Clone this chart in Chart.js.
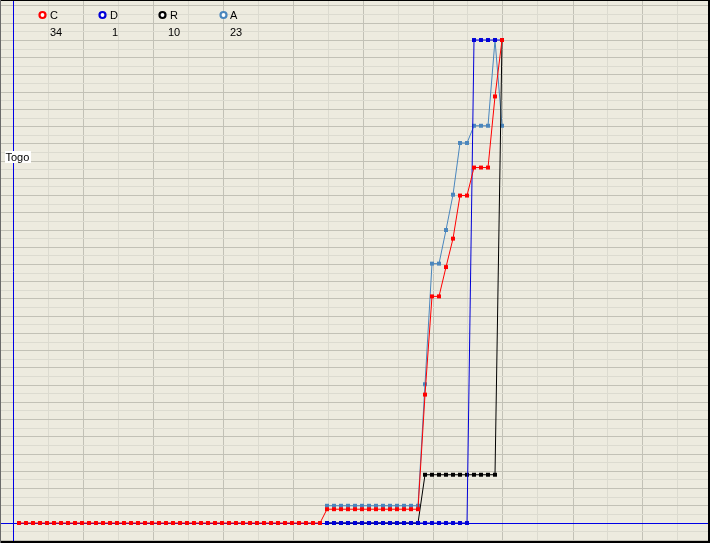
<!DOCTYPE html>
<html>
<head>
<meta charset="utf-8">
<script src="https://cdn.jsdelivr.net/npm/chart.js@4/dist/chart.umd.min.js"></script>
<style>
html, body { margin: 0; padding: 0; background: #fff; }
#wrap { position: relative; width: 710px; height: 543px; }
canvas { background: #edebdf; }
</style>
</head>
<body>
<div id="wrap"><canvas id="chart" width="710" height="543"></canvas></div>
<script>
// step index along the x axis
const steps = Array.from({ length: 70 }, (_, i) => i);

const seriesNames = ["C", "D", "R", "A"];
const seriesColors = ["#ff0000", "#0000d8", "#000000", "#4a86bd"];
const legendValues = [34, 1, 10, 23];

const valuesC = [
    0, 0, 0, 0, 0, 0, 0, 0, 0, 0, 0, 0, 0, 0, 0, 0, 0, 0, 0, 0, 0, 0,
    0, 0, 0, 0, 0, 0, 0, 0, 0, 0, 0, 0, 0, 0, 0, 0, 0, 0, 0, 0, 0, 0,
    1.6, 1.6, 1.6, 1.6, 1.6, 1.6, 1.6, 1.6, 1.6, 1.6, 1.6, 1.6, 1.6, 1.6,
    14.9, 26.3, 26.3, 29.7, 33.0, 38.0, 38.0, 41.25, 41.25, 41.25, 49.5, 56.05
];
const valuesD = [
    null, null, null, null, null, null, null, null, null, null, null,
    null, null, null, null, null, null, null, null, null, null, null,
    null, null, null, null, null, null, null, null, null, null, null,
    null, null, null, null, null, null, null, null, null, null, null,
    0, 0, 0, 0, 0, 0, 0, 0, 0, 0, 0, 0, 0, 0, 0, 0, 0, 0, 0, 0, 0,
    56.05, 56.05, 56.05, 56.05, 56.05
];
const valuesR = [
    null, null, null, null, null, null, null, null, null, null, null,
    null, null, null, null, null, null, null, null, null, null, null,
    null, null, null, null, null, null, null, null, null, null, null,
    null, null, null, null, null, null, null, null, null, null, null,
    0, 0, 0, 0, 0, 0, 0, 0, 0, 0, 0, 0, 0, 0,
    5.6, 5.6, 5.6, 5.6, 5.6, 5.6, 5.6, 5.6, 5.6, 5.6, 5.6,
    56.05
];
const valuesA = [
    null, null, null, null, null, null, null, null, null, null, null,
    null, null, null, null, null, null, null, null, null, null, null,
    null, null, null, null, null, null, null, null, null, null, null,
    null, null, null, null, null, null, null, null, null, null, null,
    2.0, 2.0, 2.0, 2.0, 2.0, 2.0, 2.0, 2.0, 2.0, 2.0, 2.0, 2.0, 2.0, 2.0,
    16.1, 30.1, 30.1, 34.0, 38.1, 44.1, 44.1, 46.1, 46.1, 46.1, 56.05, 46.1
];

// grid: vertical lines every 5 steps starting at the axis, horizontal every unit
const xAxisAt = -6 / 7;
const xGridTicks = [0, 1, 2, 3, 4, 5, 6, 7, 8, 9, 10, 11, 12, 13, 14, 15, 16, 17, 18, 19]
    .map((k) => xAxisAt + k * 5);
const yGridTicks = Array.from({ length: 63 }, (_, i) => i - 2);

const gridDark = "#c2c1b6";
const gridLight = "#dcdbd0";
const axisBlue = "#0000e6";

const decor = {
    id: "decor",
    beforeDatasetsDraw(chart) {
        // blue axis lines on top of the grid, under the series
        const ctx = chart.ctx;
        const ax = Math.round(chart.scales.x.getPixelForValue(xAxisAt)) + 0.5;
        const ay = Math.round(chart.scales.y.getPixelForValue(0)) + 0.5;
        ctx.save();
        ctx.strokeStyle = axisBlue;
        ctx.lineWidth = 1;
        ctx.beginPath();
        ctx.moveTo(ax, 0);
        ctx.lineTo(ax, 543);
        ctx.moveTo(0, ay);
        ctx.lineTo(710, ay);
        ctx.stroke();
        ctx.restore();
    },
    afterDraw(chart) {
        const ctx = chart.ctx;
        ctx.save();
        ctx.font = "11px 'Liberation Sans', Arial, sans-serif";
        ctx.textBaseline = "middle";
        const iconX = [42.5, 102.5, 162.5, 223.5];
        const textX = [50, 110, 170, 230];
        const valX = [50, 112, 168, 230];
        seriesNames.forEach((name, i) => {
            ctx.beginPath();
            ctx.arc(iconX[i], 15, 3, 0, Math.PI * 2);
            ctx.fillStyle = "#ffffff";
            ctx.fill();
            ctx.lineWidth = 2.2;
            ctx.strokeStyle = seriesColors[i];
            ctx.stroke();
            ctx.fillStyle = "#000";
            ctx.fillText(name, textX[i], 15.5);
            ctx.fillText(String(legendValues[i]), valX[i], 32.5);
        });

        // label on the y axis
        ctx.fillStyle = "#ffffff";
        ctx.fillRect(5, 151, 26, 12);
        ctx.fillStyle = "#000";
        ctx.fillText("Togo", 5.5, 157.5);

        // frame
        ctx.fillStyle = "#000";
        ctx.fillRect(0, 0, 710, 1);
        ctx.fillRect(708, 0, 2, 543);
        ctx.fillRect(0, 541, 710, 2);
        ctx.fillStyle = "#6a6a6a";
        ctx.fillRect(0, 0, 1, 543);
        ctx.restore();
    },
};

const makeSet = (label, data, color) => ({
    label: label,
    data: data,
    borderColor: color,
    backgroundColor: color,
    borderWidth: 1,
    pointStyle: "rect",
    pointRadius: 2.8,
    pointBorderWidth: 0,
    pointBackgroundColor: color,
    tension: 0,
    spanGaps: false,
    fill: false,
});

new Chart(document.getElementById("chart"), {
    type: "line",
    data: {
        labels: steps,
        datasets: [
            makeSet("C", valuesC, seriesColors[0]),
            makeSet("D", valuesD, seriesColors[1]),
            makeSet("R", valuesR, seriesColors[2]),
            makeSet("A", valuesA, seriesColors[3]),
        ],
    },
    options: {
        responsive: false,
        animation: false,
        layout: { padding: 0, autoPadding: false },
        plugins: {
            legend: { display: false },
            tooltip: { enabled: false },
        },
        scales: {
            x: {
                type: "linear",
                min: -19 / 7,
                max: -19 / 7 + 710 / 7,
                afterFit: (s) => { s.height = 0; },
                afterBuildTicks: (s) => { s.ticks = xGridTicks.map((v) => ({ value: v })); },
                ticks: { display: false },
                border: { display: false },
                grid: {
                    drawTicks: false,
                    lineWidth: 1,
                    color: (c) => (c.index % 2 === 0 ? gridDark : gridLight),
                },
            },
            y: {
                type: "linear",
                min: -20 / 8.617,
                max: 523 / 8.617,
                afterFit: (s) => { s.width = 0; },
                afterBuildTicks: (s) => { s.ticks = yGridTicks.map((v) => ({ value: v })); },
                ticks: { display: false },
                border: { display: false },
                grid: {
                    drawTicks: false,
                    lineWidth: 1,
                    color: (c) => (Math.abs(c.tick.value) % 2 === 0 ? gridDark : gridLight),
                },
            },
        },
    },
    plugins: [decor],
});
</script>
</body>
</html>
